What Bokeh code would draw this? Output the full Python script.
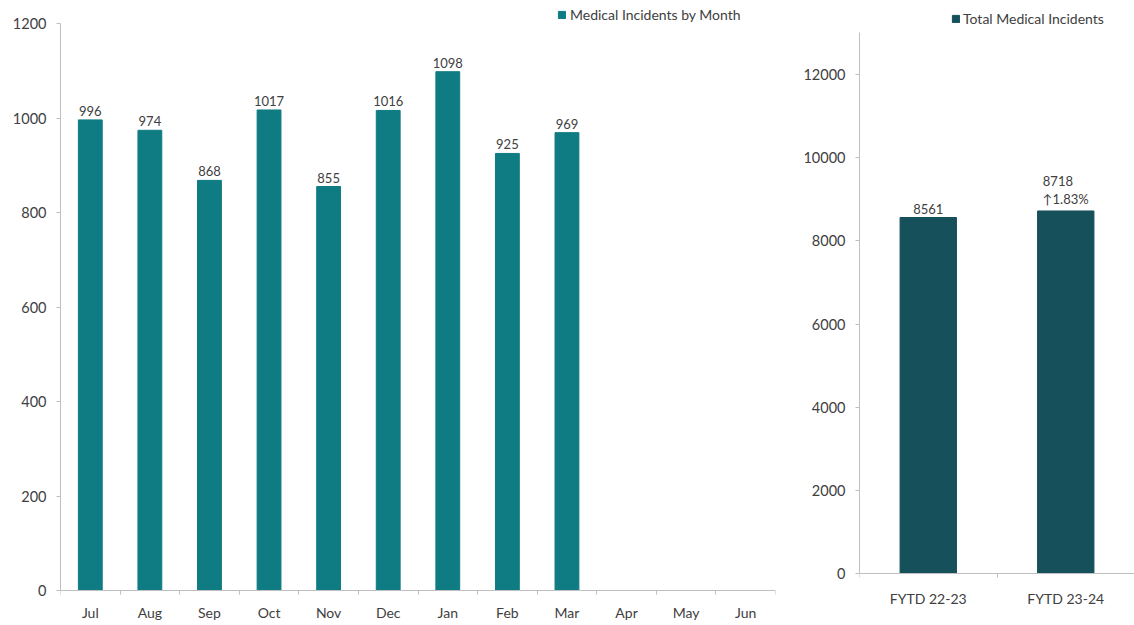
from bokeh.plotting import figure
from bokeh.layouts import row
from bokeh.models import ColumnDataSource, FixedTicker, LabelSet, Legend, LegendItem, Range1d
from bokeh.core.properties import value
from bokeh.embed import file_html
from bokeh.resources import INLINE

months = ["Jul", "Aug", "Sep", "Oct", "Nov", "Dec", "Jan", "Feb", "Mar", "Apr", "May", "Jun"]
monthly = [996, 974, 868, 1017, 855, 1016, 1098, 925, 969]
periods = ["FYTD 22-23", "FYTD 23-24"]
totals = [8561, 8718]

FONT = "Lato"
TXT = "#404040"
AX = "#BFBFBF"
C1 = "#0F7B83"
C2 = "#16505B"


def style(p, labels, yticks, ybounds, label_offset):
    p.xgrid.visible = False
    p.ygrid.visible = False
    p.outline_line_color = None
    p.background_fill_color = "white"
    p.border_fill_color = "white"
    centers = [i + 0.5 for i in range(len(labels))]
    p.xaxis.ticker = FixedTicker(ticks=centers, minor_ticks=list(range(len(labels) + 1)))
    p.xaxis.major_label_text_alpha = 0
    p.xaxis.major_tick_line_color = None
    p.xaxis.minor_tick_line_color = AX
    p.xaxis.minor_tick_out = 4
    p.xaxis.minor_tick_in = 0
    p.xaxis.fixed_location = 0
    p.xaxis.axis_line_color = AX
    p.yaxis.ticker = FixedTicker(ticks=yticks)
    p.yaxis.bounds = ybounds
    p.yaxis.minor_tick_line_color = None
    p.yaxis.major_tick_in = 0
    p.yaxis.major_tick_out = 4
    p.yaxis.major_tick_line_color = AX
    p.yaxis.axis_line_color = AX
    p.yaxis.major_label_text_font = FONT
    p.yaxis.major_label_text_color = TXT
    p.yaxis.major_label_text_font_size = "14.5px"
    p.yaxis.major_label_standoff = 10
    cat = ColumnDataSource(dict(x=centers, y=[0] * len(labels), t=labels))
    p.add_layout(LabelSet(x="x", y="y", text="t", source=cat, text_align="center",
                          text_baseline="middle", y_offset=label_offset,
                          text_font=value(FONT), text_font_size="14px", text_color=TXT))


# Left chart: frame covers the whole height; 0 sits at 590 px, 1200 at 23 px
n = len(monthly)
src1 = ColumnDataSource(dict(x=[i + 0.5 for i in range(n)], top=monthly,
                             lab=[str(v) for v in monthly]))
p1 = figure(width=790, height=625, output_backend="svg", toolbar_location=None,
            x_range=Range1d(0, len(months)), y_range=Range1d(-74.07, 1248.68),
            min_border_left=60, min_border_right=15, min_border_top=0, min_border_bottom=0)
r1 = p1.vbar(x="x", top="top", width=0.4, source=src1, fill_color=C1, line_color=C1)
style(p1, months, list(range(0, 1201, 200)), (0, 1200), -22)
p1.add_layout(LabelSet(x="x", y="top", text="lab", source=src1, text_align="center",
                       text_baseline="bottom", y_offset=4, text_font=value(FONT),
                       text_font_size="13px", text_color=TXT))
leg1 = Legend(items=[LegendItem(label="Medical Incidents by Month", renderers=[r1])],
              location=(497, 602), padding=0, margin=0, spacing=0, label_standoff=4,
              glyph_width=9, glyph_height=9, label_height=14,
              label_text_font=FONT, label_text_font_size="14px", label_text_color=TXT,
              background_fill_alpha=0, border_line_color=None)
p1.add_layout(leg1, "center")

# Right chart: 0 at 573 px, 12000 at 74 px
change = (totals[1] - totals[0]) / totals[0] * 100
src2 = ColumnDataSource(dict(x=[i + 0.5 for i in range(len(totals))], top=totals,
                             lab=[str(totals[0]), f"{totals[1]}\n\u2191{change:.2f}%"]))
p2 = figure(width=344, height=625, output_backend="svg", toolbar_location=None,
            x_range=Range1d(0, len(periods)), y_range=Range1d(-1250.5, 13779.6),
            min_border_left=69, min_border_right=0, min_border_top=0, min_border_bottom=0)
r2 = p2.vbar(x="x", top="top", width=0.41, source=src2, fill_color=C2, line_color=C2)
style(p2, periods, list(range(0, 12001, 2000)), (0, 13000), -25)
p2.add_layout(LabelSet(x="x", y="top", text="lab", source=src2, text_align="center",
                       text_baseline="bottom", y_offset=4, text_font=value(FONT),
                       text_font_size="13px", text_color=TXT, text_line_height=1.15))
leg2 = Legend(items=[LegendItem(label="Total Medical Incidents", renderers=[r2])],
              location=(92, 598), padding=0, margin=0, spacing=0, label_standoff=3,
              glyph_width=9, glyph_height=9, label_height=14,
              label_text_font=FONT, label_text_font_size="14px", label_text_color=TXT,
              background_fill_alpha=0, border_line_color=None)
p2.add_layout(leg2, "center")

layout = row(p1, p2)
open("out.html", "w").write(file_html(layout, INLINE))
